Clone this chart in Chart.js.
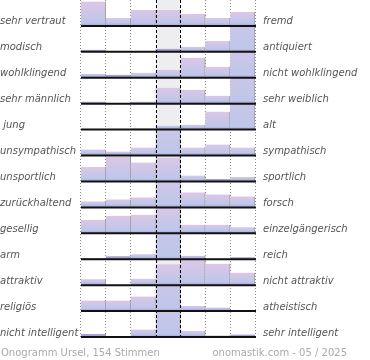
<!DOCTYPE html>
<html>
<head>
<meta charset="utf-8">
<script src="https://cdn.jsdelivr.net/npm/chart.js@4.4.1/dist/chart.umd.min.js"></script>
<style>
  html, body { margin: 0; padding: 0; background: #fff; }
  #wrap { position: relative; width: 370px; height: 360px; }
</style>
</head>
<body>
<div id="wrap"><canvas id="onogramm" width="370" height="360"></canvas></div>
<script>
// Onogramm Ursel - share of votes (%) per scale position 1..7
const positions = ['1', '2', '3', '4', '5', '6', '7'];
const leftLabels = ['sehr vertraut', 'modisch', 'wohlklingend', 'sehr männlich', ' jung', 'unsympathisch',
    'unsportlich', 'zurückhaltend', 'gesellig', 'arm', 'attraktiv', 'religiös', 'nicht intelligent'];
const rightLabels = ['fremd', 'antiquiert', 'nicht wohlklingend', 'sehr weiblich', 'alt', 'sympathisch',
    'sportlich', 'forsch', 'einzelgängerisch', 'reich', 'nicht attraktiv', 'atheistisch', 'sehr intelligent'];
const rowValues = [
    [24.5, 8, 16, 16, 12, 8, 14],
    [2, 0, 0, 3, 5, 11, 79],
    [4, 3, 5, 8, 20, 11, 49],
    [2, 0, 2, 16, 14, 8, 58],
    [0, 0, 1, 4, 5, 18, 72],
    [6, 4, 8, 54, 8, 11, 8],
    [14.5, 24.5, 19, 24, 6, 2.5, 4.5],
    [6, 8, 10, 37, 15, 13, 11],
    [13.5, 17.5, 18.5, 28, 8.5, 8.5, 6],
    [1, 3, 5, 84, 3.5, 0.5, 2],
    [6, 0, 6.5, 21, 25.5, 21.5, 12.5],
    [10.5, 10.5, 14.5, 56, 5, 3.5, 0],
    [3, 1, 7.5, 78, 6, 1.5, 2.5]
];
const rowMax = 26;
const footerLeft = 'Onogramm Ursel, 154 Stimmen';
const footerRight = 'onomastik.com - 05 / 2025';

const PINK = '#dcc7e6';
const BLUE = '#bec6ea';
const BAND = '#a7a2d2';

function barFill(c) {
    if (c.type !== 'data') return BLUE;
    const chart = c.chart;
    const y = chart.scales[c.dataset.yAxisID];
    if (!y || y.bottom === undefined) return BLUE;
    const top = y.getPixelForValue(c.raw);
    const bottom = y.getPixelForValue(0);
    const h = bottom - top;
    if (h < 3) return BAND;
    const g = chart.ctx.createLinearGradient(0, top, 0, bottom);
    g.addColorStop(0, PINK);
    g.addColorStop(Math.max(0, 1 - 3 / h), BLUE);
    g.addColorStop(1, BAND);
    return g;
}

const scales = {
    x: {
        type: 'category',
        labels: positions,
        offset: true,
        ticks: { display: false },
        border: { display: false, dash: [1, 2] },
        grid: {
            offset: true,
            drawTicks: false,
            color: ctx => (ctx.index === 3 || ctx.index === 4) ? 'rgba(0,0,0,0)' : '#8a8a8a',
            lineWidth: 1
        }
    }
};
const datasets = [];
rowValues.forEach((vals, i) => {
    const id = 'y' + i;
    scales[id] = {
        type: 'linear',
        position: 'left',
        stack: 'rows',
        stackWeight: 1,
        weight: rowValues.length - i,
        min: 0,
        max: rowMax,
        ticks: { display: false },
        grid: { display: false },
        border: { display: false }
    };
    datasets.push({
        label: leftLabels[i] + ' / ' + rightLabels[i],
        data: vals,
        yAxisID: id,
        grouped: false,
        barPercentage: 1,
        categoryPercentage: 1,
        backgroundColor: barFill,
        borderColor: '#9a9a9a',
        borderWidth: { top: 0, right: 1, bottom: 0, left: 0 },
        borderSkipped: false
    });
});

const rowIds = rowValues.map((v, i) => 'y' + i);

const decor = {
    id: 'decor',
    beforeDatasetsDraw(chart) {
        const ctx = chart.ctx;
        const a = chart.chartArea;
        const x = chart.scales.x;
        const step = x.getPixelForValue(1) - x.getPixelForValue(0);
        const l = x.getPixelForValue(3) - step / 2;
        ctx.save();
        ctx.fillStyle = '#eeeef1';
        ctx.fillRect(l, a.top, step, a.bottom - a.top);
        ctx.restore();
    },
    beforeDatasetDraw(chart, args) {
        const s = chart.scales[args.meta.yAxisID];
        const a = chart.chartArea;
        chart.ctx.save();
        chart.ctx.beginPath();
        chart.ctx.rect(a.left - 1, s.top, a.right - a.left + 2, s.bottom - s.top);
        chart.ctx.clip();
    },
    afterDatasetDraw(chart) {
        chart.ctx.restore();
    },
    afterDatasetsDraw(chart) {
        const ctx = chart.ctx;
        const a = chart.chartArea;
        const x = chart.scales.x;
        const step = x.getPixelForValue(1) - x.getPixelForValue(0);
        ctx.save();
        // middle dashed lines
        ctx.strokeStyle = '#000';
        ctx.lineWidth = 1;
        ctx.setLineDash([3, 2]);
        [3, 4].forEach(i => {
            const px = Math.round(x.getPixelForValue(i) - step / 2) + 0.5;
            ctx.beginPath();
            ctx.moveTo(px, a.top);
            ctx.lineTo(px, a.bottom);
            ctx.stroke();
        });
        ctx.setLineDash([]);
        // row baselines and labels
        ctx.font = 'italic 10px "DejaVu Sans"';
        ctx.fillStyle = '#555';
        rowIds.forEach((id, i) => {
            const s = chart.scales[id];
            const yb = s.getPixelForValue(0);
            ctx.strokeStyle = '#111';
            ctx.lineWidth = 2;
            ctx.beginPath();
            ctx.moveTo(a.left, yb);
            ctx.lineTo(a.right + 1, yb);
            ctx.stroke();
            ctx.textBaseline = 'alphabetic';
            ctx.textAlign = 'left';
            ctx.fillText(leftLabels[i], 0, yb - 1.5);
            ctx.fillText(rightLabels[i], 263, yb - 1.5);
        });
        ctx.font = '10px "DejaVu Sans"';
        ctx.fillStyle = '#aaa';
        ctx.textAlign = 'left';
        ctx.fillText(footerLeft, 1, 355.5);
        ctx.textAlign = 'right';
        ctx.fillText(footerRight, 347, 355.5);
        ctx.restore();
    }
};

new Chart(document.getElementById('onogramm'), {
    type: 'bar',
    data: { labels: positions, datasets: datasets },
    options: {
        responsive: false,
        animation: false,
        layout: { padding: { left: 73, right: 115, top: 0, bottom: 23 } },
        plugins: { legend: { display: false }, tooltip: { enabled: false } },
        scales: scales
    },
    plugins: [decor]
});
</script>
</body>
</html>
